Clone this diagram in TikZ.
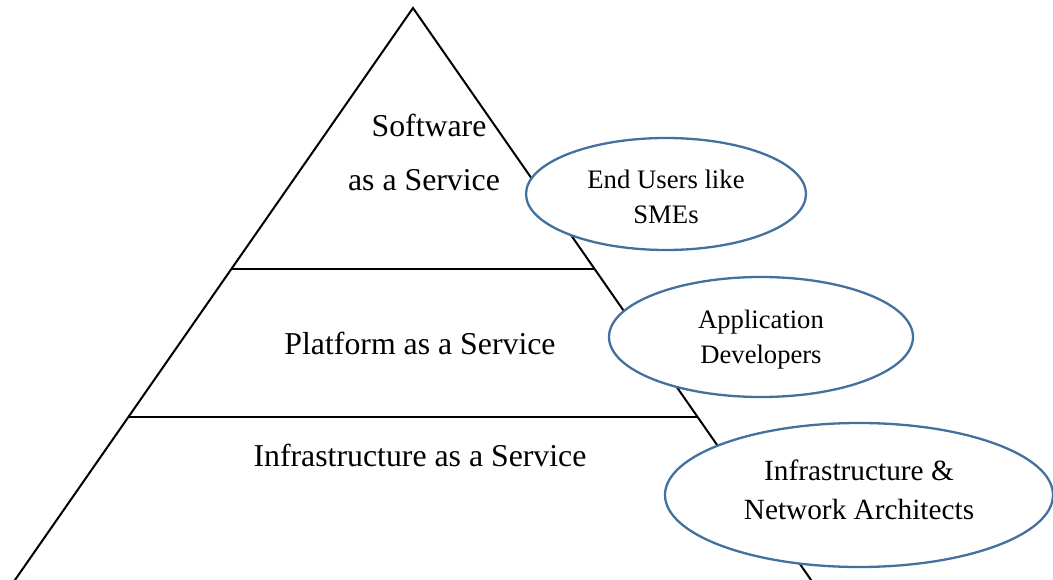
\documentclass[tikz,border=0pt]{standalone}
\usepackage{fontspec}
\setmainfont{Liberation Serif}
\usetikzlibrary{shapes.geometric,calc}
\definecolor{ellblue}{HTML}{41719C}
\tikzset{
  pyr/.style={line width=2pt, black},
  role/.style={ellipse, draw=ellblue, line width=2.3pt, fill=white, inner sep=0pt},
  roletext/.style={inner sep=0pt, align=center},
  lvl/.style={anchor=base, inner sep=0pt, font=\fontsize{31.8}{36}\selectfont},
}
\begin{document}
\begin{tikzpicture}[x=1pt,y=-1pt]
\useasboundingbox (0,0) rectangle (1053,580);
\clip (0,0) rectangle (1053,580);
\coordinate (apex) at (413,8);
\coordinate (bl) at (8,590);
\coordinate (br) at (818,590);
\draw[pyr] (apex) -- (bl) -- (br) -- cycle;
\coordinate (l1) at ($(apex)!0.4485!(bl)$);
\coordinate (r1) at ($(apex)!0.4485!(br)$);
\coordinate (l2) at ($(apex)!0.7027!(bl)$);
\coordinate (r2) at ($(apex)!0.7027!(br)$);
\draw[pyr] (l1) -- (r1);
\draw[pyr] (l2) -- (r2);
\node[lvl] (saas1) at (429,137) {Software};
\node[lvl] (saas2) at (424,191) {as a Service};
\node[lvl] (paas) at (420,355) {Platform as a Service};
\node[lvl] (iaas) at (420,466) {Infrastructure as a Service};
\node[role, minimum width=280pt, minimum height=112pt] (e1) at (666,194) {};
\node[roletext, yshift=-3pt, font=\fontsize{26.7}{35}\selectfont] (e1t) at (e1) {End Users like\\SMEs};
\node[role, minimum width=304pt, minimum height=120pt] (e2) at (761,337) {};
\node[roletext, yshift=-3pt, font=\fontsize{26.6}{35}\selectfont] (e2t) at (e2) {Application\\Developers};
\node[role, minimum width=388pt, minimum height=144pt] (e3) at (859,495) {};
\node[roletext, yshift=5pt, font=\fontsize{29.3}{39}\selectfont] (e3t) at (e3) {Infrastructure \&\\Network Architects};
\end{tikzpicture}
\end{document}
